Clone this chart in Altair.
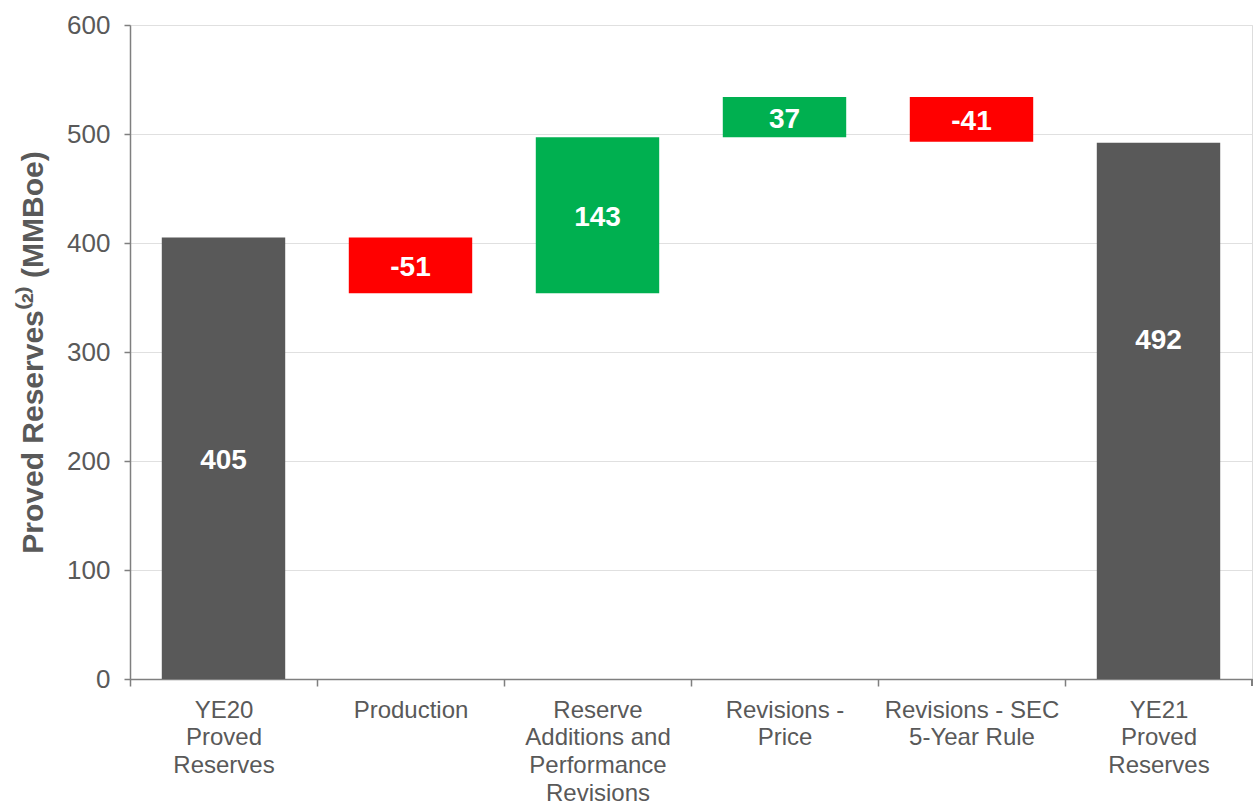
import altair as alt
import pandas as pd

categories = [
    "YE20\nProved\nReserves",
    "Production",
    "Reserve\nAdditions and\nPerformance\nRevisions",
    "Revisions -\nPrice",
    "Revisions - SEC\n5-Year Rule",
    "YE21\nProved\nReserves",
]
starts = [0, 405, 354, 497, 534, 0]
ends = [405, 354, 497, 534, 493, 492]
labels = ["405", "-51", "143", "37", "-41", "492"]
label_at = [202.5, 379.5, 425.5, 515.5, 513.5, 313]
kinds = ["total", "decrease", "increase", "increase", "decrease", "total"]

kind_domain = ["total", "decrease", "increase"]
kind_colors = ["#595959", "#FF0000", "#00B050"]

df = pd.DataFrame({
    "category": categories,
    "start": starts,
    "end": ends,
    "label": labels,
    "label_at": label_at,
    "kind": kinds,
})

W, H = 1122, 654
FONT = "Liberation Sans"
GRAY = "#595959"
AXIS_GRAY = "#7f7f7f"

x_enc = alt.X(
    "category:N",
    sort=categories,
    scale=alt.Scale(paddingInner=0.34, paddingOuter=0.17),
    axis=alt.Axis(
        title=None,
        labelAngle=0,
        labelExpr="split(datum.label, '\\n')",
        labelFont=FONT,
        labelFontSize=24,
        labelColor=GRAY,
        labelLineHeight=27.7,
        labelBaseline="top",
        labelPadding=12,
        tickOffset=-W / 12,
        labelOffset=W / 12,
        tickSize=7,
        tickColor=AXIS_GRAY,
        tickWidth=1.5,
        domainColor=AXIS_GRAY,
        domainWidth=1.5,
        grid=False,
        labelLimit=300,
    ),
)

bars = alt.Chart(df).mark_bar().encode(
    x=x_enc,
    y=alt.Y(
        "start:Q",
        scale=alt.Scale(domain=[0, 600], nice=False),
        axis=alt.Axis(
            title="Proved Reserves⁽²⁾ (MMBoe)",
            titleFont=FONT,
            titleFontSize=30,
            titleFontWeight="bold",
            titleColor=GRAY,
            titlePadding=18,
            values=[0, 100, 200, 300, 400, 500, 600],
            labelFont=FONT,
            labelFontSize=26,
            labelColor=GRAY,
            labelPadding=14,
            tickSize=6,
            tickColor=AXIS_GRAY,
            tickWidth=1.5,
            domainColor=AXIS_GRAY,
            domainWidth=1.5,
            grid=True,
            gridColor="#e0e0e0",
            gridWidth=1.2,
        ),
    ),
    y2="end:Q",
    color=alt.Color(
        "kind:N",
        scale=alt.Scale(domain=kind_domain, range=kind_colors),
        legend=None,
    ),
)

text = alt.Chart(df).mark_text(
    font=FONT, fontSize=28, fontWeight="bold", color="white",
    baseline="middle", dy=3,
).encode(
    x=alt.X("category:N", sort=categories),
    y=alt.Y("label_at:Q"),
    text="label:N",
)

end_tick = alt.Chart(df).mark_rule(color=AXIS_GRAY, strokeWidth=1.5).encode(
    x=alt.value(W), y=alt.value(H), y2=alt.value(H + 7)
)

chart = alt.layer(bars, text, end_tick).properties(
    width=W,
    height=H,
    autosize=alt.AutoSizeParams(type="none"),
    padding={"left": 130, "top": 25, "right": 4, "bottom": 129},
).configure_view(stroke=None).configure(background="white")

chart.save("out.html", embed_options={"renderer": "svg", "actions": False})
